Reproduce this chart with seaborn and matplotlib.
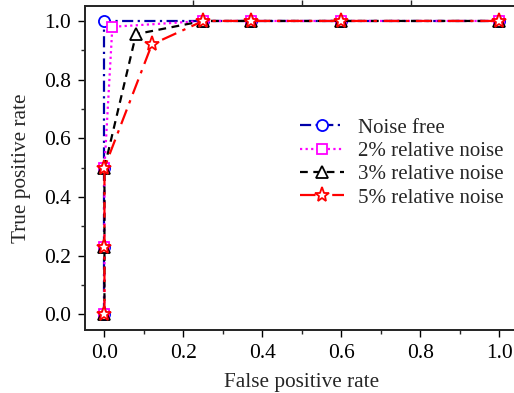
import numpy as np
import pandas as pd
import matplotlib
matplotlib.use("Agg")
import matplotlib.pyplot as plt
from matplotlib.ticker import MultipleLocator
import seaborn as sns

sns.set_theme(style="ticks")
plt.rcParams['font.family'] = ['Liberation Serif', 'DejaVu Serif']
plt.rcParams['mathtext.fontset'] = 'stix'

labels = ["Noise free", "2% relative noise", "3% relative noise", "5% relative noise"]
fpr_free = [0.0, 0.0, 0.0, 0.0, 0.25, 0.37, 0.6, 1.0]
tpr_free = [0.0, 0.23, 0.5, 1.0, 1.0, 1.0, 1.0, 1.0]
fpr_2 = [0.0, 0.0, 0.0, 0.02, 0.25, 0.37, 0.6, 1.0]
tpr_2 = [0.0, 0.23, 0.5, 0.98, 1.0, 1.0, 1.0, 1.0]
fpr_3 = [0.0, 0.0, 0.0, 0.08, 0.25, 0.37, 0.6, 1.0]
tpr_3 = [0.0, 0.23, 0.5, 0.955, 1.0, 1.0, 1.0, 1.0]
fpr_5 = [0.0, 0.0, 0.0, 0.12, 0.25, 0.37, 0.6, 1.0]
tpr_5 = [0.0, 0.23, 0.5, 0.92, 1.0, 1.0, 1.0, 1.0]
top_ticks = [0.225, 0.5, 0.775]

fig = plt.figure(figsize=(5.14, 3.93), dpi=100)
ax = fig.add_axes([84.7/514, 63/393, 434.5/514, 324.3/393])

styles = [
    dict(color="#0000a8", mec="#0000ff", marker="o", ls=(0, (5, 2, 1, 2))),
    dict(color="#ff00ff", mec="#ff00ff", marker="s", ls=(0, (1, 1.5))),
    dict(color="black", mec="black", marker="^", ls=(0, (3.5, 2.5))),
    dict(color="#ff0000", mec="#ff0000", marker="*", ls=(0, (7, 3, 1.5, 3))),
]
series = [(fpr_free, tpr_free), (fpr_2, tpr_2), (fpr_3, tpr_3), (fpr_5, tpr_5)]
msizes = [8, 7.5, 8.5, 11]
for (xs, ys), lab, st, ms in zip(series, labels, styles, msizes):
    df = pd.DataFrame({"x": xs, "y": ys})
    sns.lineplot(data=df, x="x", y="y", sort=False, estimator=None, ax=ax,
                 color=st["color"], linestyle=st["ls"], linewidth=1.6,
                 marker=st["marker"], markersize=ms, markerfacecolor="white",
                 markeredgecolor=st["mec"], markeredgewidth=1.3, label=lab)

ax.set_xlim(-0.05, 1.05)
ax.set_ylim(-0.0535, 1.052)
ax.xaxis.set_minor_locator(MultipleLocator(0.1))
ax.yaxis.set_minor_locator(MultipleLocator(0.1))
ax.set_xticks([0.0, 0.2, 0.4, 0.6, 0.8, 1.0])
ax.set_xticklabels(["0.0", "0.2", "0.4", "0.6", "0.8", "1.0"])
ax.set_yticks([0.0, 0.2, 0.4, 0.6, 0.8, 1.0])
ax.set_yticklabels(["0.0", "0.2", "0.4", "0.6", "0.8", "1.0"])
ax.tick_params(which="major", direction="out", length=5, width=1, labelsize=15.5, colors="black", pad=5)
ax.tick_params(which="minor", direction="out", length=3, width=1)
for s in ax.spines.values():
    s.set_linewidth(1.1)
    s.set_color("black")
    s.set_visible(True)

ax2 = ax.twiny()
ax2.set_xlim(ax.get_xlim())
ax2.set_xticks(top_ticks)
ax2.set_xticklabels([])
ax2.tick_params(direction="out", length=4, width=1)

ax.set_xlabel("False positive rate", fontsize=15.3, labelpad=7)
ax.set_ylabel("True positive rate", fontsize=15.3, labelpad=9)

leg = ax.legend(loc="upper left", bbox_to_anchor=(300/514, 1 - 118/393),
                bbox_transform=fig.transFigure, frameon=False, fontsize=15,
                handlelength=2.1, handletextpad=0.7, labelspacing=0.18,
                borderpad=0, borderaxespad=0)

fig.savefig("out.png", dpi=100)
